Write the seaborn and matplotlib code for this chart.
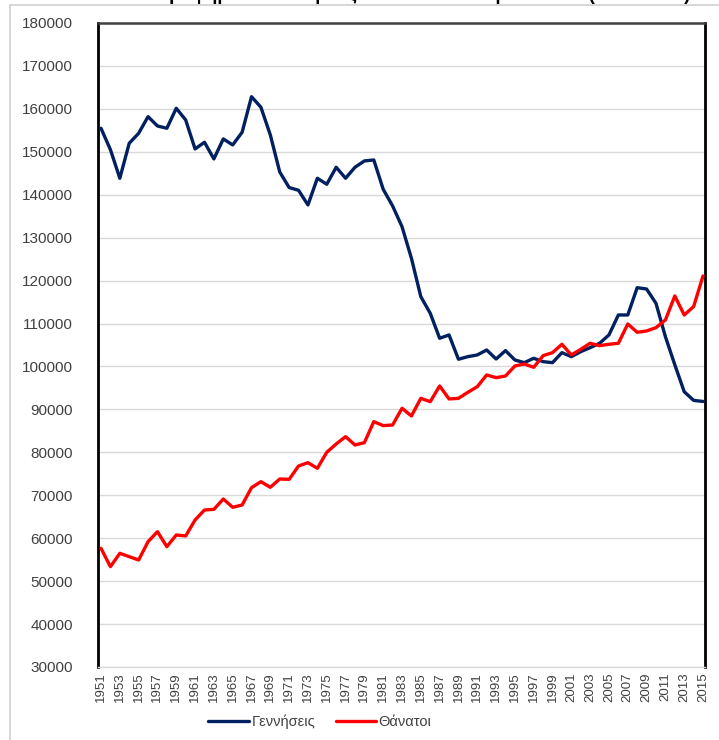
import numpy as np
import pandas as pd
import matplotlib
matplotlib.use("Agg")
import matplotlib.pyplot as plt
import seaborn as sns
from matplotlib.patches import Rectangle
from matplotlib.lines import Line2D

years = list(range(1951, 2016))
births = [155480, 150500, 143840, 151990, 154310, 158190, 156020, 155480, 160140, 157420,
          150670, 152220, 148340, 153000, 151600, 154550, 162840, 160370, 153920, 145300,
          141670, 141040, 137620, 143840, 142440, 146400, 143840, 146400, 147870, 148100,
          141270, 137390, 132560, 125200, 116250, 112390, 106570, 107340, 101680, 102290,
          102680, 103840, 101740, 103690, 101510, 100890, 101910, 101120, 100890, 103220,
          102290, 103450, 104380, 105400, 107340, 111990, 111990, 118350, 118040, 114710,
          106950, 100400, 94120, 92100, 91850]
deaths = [57640, 53370, 56480, 55700, 54920, 59190, 61520, 58030, 60750, 60520,
          64240, 66570, 66720, 69130, 67190, 67740, 71770, 73170, 71850, 73790,
          73710, 76820, 77590, 76280, 80010, 81950, 83650, 81710, 82260, 87150,
          86220, 86370, 90260, 88470, 92580, 91800, 95460, 92430, 92580, 93980,
          95290, 98020, 97390, 97780, 100110, 100580, 99800, 102520, 103220, 105170,
          102680, 104000, 105400, 104850, 105170, 105400, 109900, 107960, 108270, 109040,
          110830, 116420, 111990, 113940, 121080]
series_names = ["Γεννήσεις", "Θάνατοι"]
colors = ["#002060", "#FF0000"]
y_ticks = list(range(30000, 180001, 10000))
x_ticks = list(range(1951, 2016, 2))
title = "Γράφημα 1: Γεννήσεις και θάνατοι στην Ελλάδα (1951-2015)"

df = pd.DataFrame({
    "year": years * 2,
    "value": births + deaths,
    "series": [series_names[0]] * len(years) + [series_names[1]] * len(years),
})

sns.set_theme(style="white")
plt.rcParams["font.family"] = ["Liberation Sans", "DejaVu Sans"]

W, H = 719, 740
fig = plt.figure(figsize=(W / 100, H / 100), dpi=100)
ax = fig.add_axes([98 / W, 1 - 667 / H, (705 - 98) / W, (667 - 23) / H])

# outer chart border
fig.patches.append(Rectangle((10 / W, -0.05), 1.1, 1 - 5 / H + 0.05, transform=fig.transFigure,
                             fill=False, edgecolor="#D0D0D0", linewidth=1.2, zorder=0))

sns.lineplot(data=df, x="year", y="value", hue="series", palette=colors,
             hue_order=series_names, linewidth=2.4, ax=ax, legend=False, zorder=3)

ax.set_xlim(1950.68, 2015.21)
ax.set_ylim(30000, 180000)
ax.set_yticks(y_ticks)
ax.set_yticklabels([str(v) for v in y_ticks], fontsize=11, color="#404040")
ax.set_xticks(x_ticks)
ax.set_xticklabels([str(v) for v in x_ticks], rotation=90, fontsize=9.5, color="#404040")
ax.tick_params(axis="both", length=0)
ax.tick_params(axis="y", pad=18)
ax.tick_params(axis="x", pad=4)
ax.set_xlabel("")
ax.set_ylabel("")
ax.grid(axis="y", color="#D9D9D9", linewidth=1.0)
ax.set_axisbelow(True)

ax.spines["left"].set_color("black")
ax.spines["left"].set_linewidth(2.0)
ax.spines["right"].set_color("black")
ax.spines["right"].set_linewidth(2.0)
ax.spines["top"].set_color("#404040")
ax.spines["top"].set_linewidth(1.8)
ax.spines["bottom"].set_color("#D9D9D9")
ax.spines["bottom"].set_linewidth(1.0)

handles = [Line2D([0], [0], color=c, linewidth=2.4) for c in colors]
fig.legend(handles, series_names, loc="center", bbox_to_anchor=(320 / W, 1 - 722 / H),
           ncol=2, frameon=False, fontsize=10.5, handlelength=2.8, handletextpad=0.15,
           columnspacing=1.4, labelcolor="#404040")

fig.text(690 / W, 1 - 0.5 / H, title, ha="right", va="baseline",
         fontsize=13.5, fontweight="bold", color="black")

fig.savefig("out.png", dpi=100, facecolor="white")
